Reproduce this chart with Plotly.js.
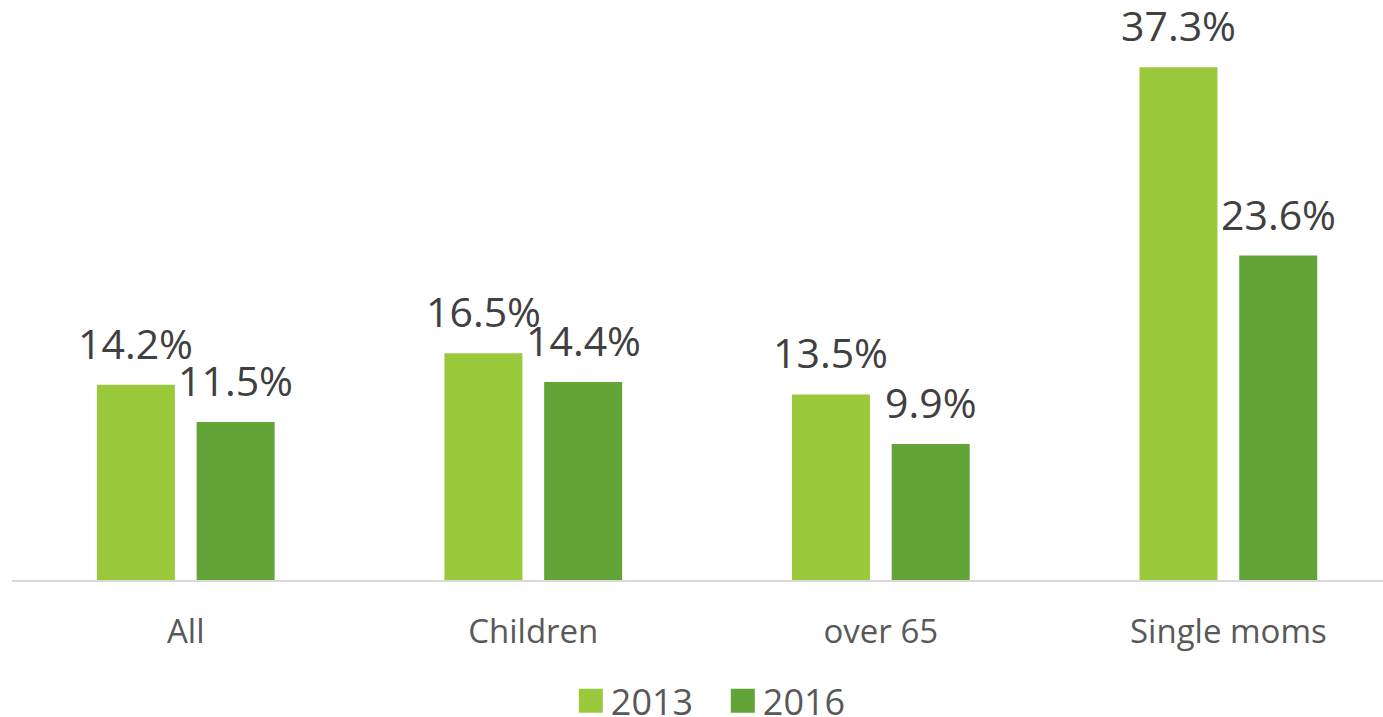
<!DOCTYPE html>
<html>
<head>
<meta charset="utf-8">
<script src="https://cdn.plot.ly/plotly-3.0.1.min.js"></script>
<style>html,body{margin:0;padding:0;background:#fff;}#chart{width:1383px;height:717px;}</style>
</head>
<body>
<div id="chart"></div>
<script>
var categories = ["All", "Children", "over 65", "Single moms"];
var series2013 = [14.2, 16.5, 13.5, 37.3];
var series2016 = [11.5, 14.4, 9.9, 23.6];
var seriesNames = ["2013", "2016"];
var colors = ["#9ACA3C", "#62A438"];

var traces = [
  {type: "bar", name: seriesNames[0], x: categories, y: series2013,
   marker: {color: colors[0]}, hoverinfo: "x+y"},
  {type: "bar", name: seriesNames[1], x: categories, y: series2016,
   marker: {color: colors[1]}, hoverinfo: "x+y"}
];

var annotations = [];
[series2013, series2016].forEach(function (vals, si) {
  vals.forEach(function (v, i) {
    annotations.push({
      x: categories[i], y: v, xref: "x", yref: "y",
      text: v.toFixed(1) + "%", showarrow: false,
      xanchor: "center", yanchor: "bottom",
      xshift: si === 0 ? -50 : 50, yshift: 12,
      font: {family: "Open Sans, sans-serif", size: 41, color: "#404040"}
    });
  });
});

var layout = {
  width: 1383, height: 717,
  margin: {l: 12, r: 0, t: 29.5, b: 137, pad: 0, autoexpand: false},
  paper_bgcolor: "#ffffff", plot_bgcolor: "#ffffff",
  barmode: "group", bargap: 0.426, bargroupgap: 0.218,
  showlegend: true,
  legend: {orientation: "h", x: 0.4076, xanchor: "left", y: -0.165, yanchor: "top",
           font: {family: "Open Sans, sans-serif", size: 36, color: "#595959"},
           entrywidth: 107, entrywidthmode: "pixels", itemwidth: 30, tracegroupgap: 0},
  xaxis: {type: "category", range: [-0.5, 3.445], showgrid: false, zeroline: false,
          showline: true, linecolor: "#d9d9d9", linewidth: 1.5, ticks: "",
          ticklabelstandoff: 22,
          tickfont: {family: "Open Sans, sans-serif", size: 33, color: "#595959"}},
  yaxis: {range: [0, 40], visible: false, showgrid: false, zeroline: false},
  annotations: annotations,
  font: {family: "Open Sans, sans-serif"}
};

Plotly.newPlot("chart", traces, layout, {displayModeBar: false, staticPlot: true}).then(function () {
  document.querySelectorAll(".legend .legendpoints path").forEach(function (p) {
    p.setAttribute("d", "M12,12H-12V-12H12Z");
  });
});
</script>
</body>
</html>
